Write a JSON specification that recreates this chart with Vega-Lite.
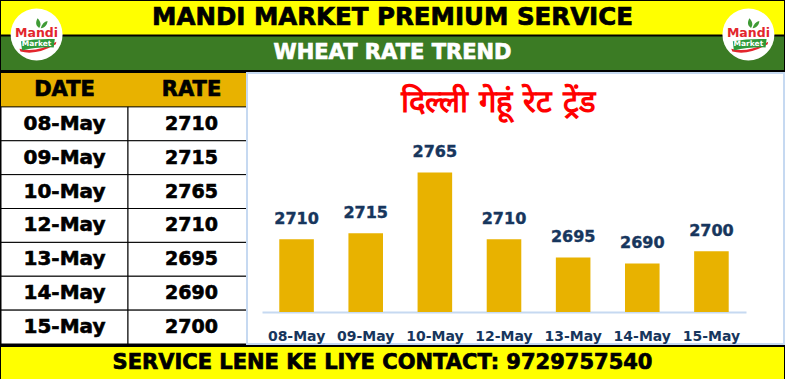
{
  "$schema": "https://vega.github.io/schema/vega-lite/v6.json",
  "background": "#000000",
  "padding": {"left": 0, "top": 1, "right": 2, "bottom": 2},
  "spacing": 2,
  "config": {"view": {"stroke": null}, "font": "DejaVu Sans"},
  "datasets": {
    "rates": [
      {"date": "08-May", "rate": 2710},
      {"date": "09-May", "rate": 2715},
      {"date": "10-May", "rate": 2765},
      {"date": "12-May", "rate": 2710},
      {"date": "13-May", "rate": 2695},
      {"date": "14-May", "rate": 2690},
      {"date": "15-May", "rate": 2700}
    ]
  },
  "vconcat": [
    {
      "width": 783,
      "height": 69,
      "data": {"values": [
        {"band": "top", "label": "MANDI MARKET PREMIUM SERVICE"},
        {"band": "bottom", "label": "WHEAT RATE TREND"}
      ]},
      "layer": [
        {
          "mark": {"type": "rect"},
          "encoding": {
            "y": {"field": "band", "type": "nominal", "scale": {"domain": ["top", "bottom"], "paddingInner": 0.06, "paddingOuter": 0}, "axis": null},
            "color": {"field": "band", "type": "nominal", "scale": {"domain": ["top", "bottom"], "range": ["#FFFF00", "#3B7B24"]}, "legend": null}
          }
        },
        {
          "mark": {"type": "text", "font": "DejaVu Sans", "fontWeight": "bold", "baseline": "middle", "strokeWidth": 0.7},
          "encoding": {
            "y": {"field": "band", "type": "nominal"},
            "text": {"field": "label"},
            "color": {"condition": {"test": "datum.band === 'top'", "value": "#000000"}, "value": "#FFFFFF"},
            "stroke": {"condition": {"test": "datum.band === 'top'", "value": "#000000"}, "value": "#FFFFFF"},
            "size": {"condition": {"test": "datum.band === 'top'", "value": 24.5}, "value": 21}
          }
        },
        {
          "data": {"values": [{"side": "left"}, {"side": "right"}]},
          "encoding": {
            "x": {"field": "side", "type": "nominal", "scale": {"type": "point", "domain": ["left", "right"], "padding": 0.05}, "axis": null},
            "y": {"datum": "top", "type": "nominal", "bandPosition": 1}
          },
          "layer": [
            {"mark": {"type": "point", "shape": "circle", "filled": true, "color": "#FFFFFF", "opacity": 1, "size": 2700}},
            {"mark": {"type": "point", "filled": true, "opacity": 1, "color": "#3F9B35", "size": 2700,
              "shape": "M0.1,-0.25 C-0.06,-0.35 -0.03,-0.5 0.04,-0.62 C0.16,-0.5 0.19,-0.36 0.1,-0.25 Z M0.16,-0.24 C0.2,-0.4 0.3,-0.5 0.42,-0.52 C0.42,-0.38 0.32,-0.26 0.16,-0.24 Z"}},
            {"mark": {"type": "point", "filled": true, "opacity": 1, "color": "#E3262D", "size": 2700,
              "shape": "M-0.66,0.55 Q0,0.72 0.76,0.28 L0.74,0.38 Q0,0.82 -0.62,0.66 Z"}},
            {"mark": {"type": "point", "filled": true, "opacity": 1, "color": "#2E9A3A", "size": 2700,
              "shape": "M-0.6,0.26 Q0,0.16 0.7,0.18 L0.66,0.5 Q0,0.48 -0.56,0.62 Z"}},
            {"mark": {"type": "text", "text": "Mandi", "color": "#E3262D", "font": "DejaVu Sans", "fontWeight": "bold", "fontSize": 12.5, "baseline": "middle", "dy": -1}},
            {"mark": {"type": "text", "text": "Market", "color": "#FFFFFF", "font": "DejaVu Sans", "fontWeight": "bold", "fontSize": 7.5, "baseline": "middle", "dy": 10}}
          ]
        }
      ]
    },
    {
      "hconcat": [
        {
          "width": 245,
          "height": 271,
          "view": {"fill": "#FFFFFF", "stroke": null},
          "layer": [
            {
              "data": {"values": [{"h": "DATE"}, {"h": "RATE"}]},
              "mark": {"type": "rect", "color": "#E8B200"},
              "encoding": {
                "x": {"field": "h", "type": "nominal", "scale": {"domain": ["DATE", "RATE"], "range": [0, 254], "paddingInner": 0, "paddingOuter": 0}, "axis": null},
                "y": {"datum": "header", "type": "nominal", "scale": {"domain": ["header", "08-May", "09-May", "10-May", "12-May", "13-May", "14-May", "15-May"], "paddingInner": 0, "paddingOuter": 0}, "axis": null}
              }
            },
            {
              "data": {"values": [{"h": "DATE"}, {"h": "RATE"}]},
              "mark": {"type": "text", "font": "DejaVu Sans", "fontWeight": "bold", "fontSize": 21, "color": "#000000", "stroke": "#000000", "strokeWidth": 0.7},
              "encoding": {
                "x": {"field": "h", "type": "nominal"},
                "y": {"datum": "header", "type": "nominal"},
                "text": {"field": "h"}
              }
            },
            {
              "data": {"name": "rates"},
              "mark": {"type": "rect", "fill": "#FFFFFF", "stroke": "#000000", "strokeWidth": 1},
              "encoding": {"x": {"datum": "DATE", "type": "nominal"}, "y": {"field": "date", "type": "nominal"}}
            },
            {
              "data": {"name": "rates"},
              "mark": {"type": "rect", "fill": "#FFFFFF", "stroke": "#000000", "strokeWidth": 1},
              "encoding": {"x": {"datum": "RATE", "type": "nominal"}, "y": {"field": "date", "type": "nominal"}}
            },
            {
              "data": {"name": "rates"},
              "mark": {"type": "text", "font": "DejaVu Sans", "fontWeight": "bold", "fontSize": 20, "color": "#000000", "stroke": "#000000", "strokeWidth": 0.6},
              "encoding": {"x": {"datum": "DATE", "type": "nominal"}, "y": {"field": "date", "type": "nominal"}, "text": {"field": "date"}}
            },
            {
              "data": {"name": "rates"},
              "mark": {"type": "text", "font": "DejaVu Sans", "fontWeight": "bold", "fontSize": 19, "color": "#000000", "stroke": "#000000", "strokeWidth": 0.6},
              "encoding": {"x": {"datum": "RATE", "type": "nominal"}, "y": {"field": "date", "type": "nominal"}, "text": {"field": "rate", "type": "quantitative", "format": "d"}}
            }
          ]
        },
        {
          "width": 537,
          "height": 271,
          "view": {"fill": "#FFFFFF", "stroke": "#C6D9F1", "strokeWidth": 2},
          "title": {"text": "दिल्ली गेहूं रेट ट्रेंड", "color": "#FF0000", "fontSize": 31, "fontWeight": "bold", "anchor": "middle", "frame": "group", "offset": -46, "dx": -17},
          "data": {"name": "rates"},
          "encoding": {
            "x": {
              "field": "date", "type": "nominal", "sort": null,
              "scale": {"type": "band", "range": [15, 499], "paddingInner": 0.5, "paddingOuter": 0.25},
              "axis": {"title": null, "labelAngle": 0, "ticks": false, "grid": false, "domainColor": "#C6D9F1", "domainWidth": 2, "labelColor": "#17365D", "labelFont": "DejaVu Sans", "labelFontSize": 14, "labelFontWeight": "bold", "labelPadding": 17, "offset": -32}
            }
          },
          "layer": [
            {
              "mark": {"type": "bar", "color": "#E8B200"},
              "encoding": {
                "y": {"field": "rate", "type": "quantitative", "scale": {"domain": [2650, 2800], "range": [239, 57], "zero": false, "nice": false}, "axis": null},
                "y2": {"datum": 2650}
              }
            },
            {
              "mark": {"type": "text", "font": "DejaVu Sans", "fontWeight": "bold", "fontSize": 16, "color": "#17365D", "stroke": "#17365D", "strokeWidth": 0.4, "baseline": "alphabetic", "dy": -15},
              "encoding": {
                "y": {"field": "rate", "type": "quantitative"},
                "text": {"field": "rate", "type": "quantitative", "format": "d"}
              }
            }
          ]
        }
      ],
      "spacing": 1,
      "bounds": "flush"
    },
    {
      "width": 783,
      "height": 32,
      "view": {"fill": "#FFFF00", "stroke": null},
      "data": {"values": [{"label": "SERVICE LENE KE LIYE CONTACT: 9729757540"}]},
      "mark": {"type": "text", "font": "DejaVu Sans", "fontWeight": "bold", "fontSize": 21, "color": "#000000", "stroke": "#000000", "strokeWidth": 0.7, "dx": -10, "baseline": "middle"},
      "encoding": {"text": {"field": "label"}}
    }
  ]
}
